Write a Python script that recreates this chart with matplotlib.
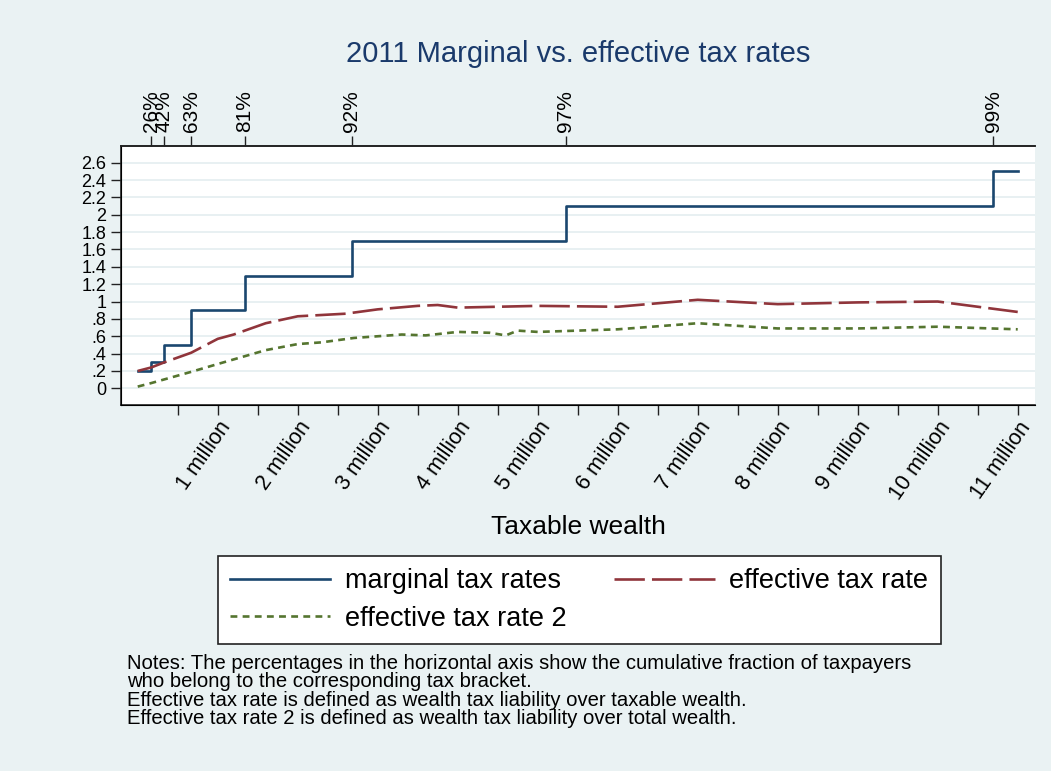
import matplotlib
matplotlib.use("Agg")
import matplotlib.pyplot as plt
import numpy as np

# wealth tax brackets 2011 (million euros) and marginal rates (%)
bracket_start = [0, 0.167129, 0.334253, 0.668500, 1.337000, 2.673999, 5.347998, 10.695996]
marginal_rate = [0.2, 0.3, 0.5, 0.9, 1.3, 1.7, 2.1, 2.5]
bracket_pct = ["26%", "42%", "63%", "81%", "92%", "97%", "99%"]
max_wealth = 11.0

# effective tax rate (liability / taxable wealth)
eff_wealth = [0, 0.167, 0.334, 0.668, 1.0, 1.2, 1.6, 2.0, 2.6, 3.0, 3.5, 3.75, 4.0,
              4.5, 5.0, 6.0, 7.0, 8.0, 9.0, 10.0, 11.0]
eff_rate = [0.20, 0.24, 0.30, 0.41, 0.57, 0.62, 0.75, 0.83, 0.86, 0.91, 0.95, 0.96, 0.93,
            0.94, 0.95, 0.94, 1.02, 0.97, 0.99, 1.00, 0.88]

# effective tax rate 2 (liability / total wealth)
eff2_wealth = [0, 0.167, 0.668, 1.0, 1.3, 1.6, 2.0, 2.3, 2.7, 3.0, 3.3, 3.6, 4.0,
               4.4, 4.6, 4.75, 5.0, 6.0, 7.0, 8.0, 9.0, 10.0, 11.0]
eff2_rate = [0.02, 0.06, 0.19, 0.28, 0.36, 0.44, 0.51, 0.53, 0.58, 0.60, 0.62, 0.61, 0.65,
             0.64, 0.61, 0.665, 0.65, 0.68, 0.75, 0.69, 0.69, 0.71, 0.68]

bg = "#eaf2f3"
navy = "#1a476f"
maroon = "#90353b"
green = "#55752f"

plt.rcParams["font.family"] = ["Liberation Sans", "DejaVu Sans"]

W, H = 1051, 771
fig = plt.figure(figsize=(W / 100, H / 100), dpi=100, facecolor=bg)
ax = fig.add_axes([121 / W, 1 - 405 / H, (1035 - 121) / W, (405 - 146) / H])
ax.set_facecolor("white")

yticks = np.round(np.arange(0, 2.61, 0.2), 1)
for y in yticks:
    ax.axhline(y, color="#e6eff1", lw=1.3, zorder=0)

step_x = bracket_start + [max_wealth]
step_y = marginal_rate + [marginal_rate[-1]]
l1, = ax.step(step_x, step_y, where="post", color=navy, lw=1.9, label="marginal tax rates")
l2, = ax.plot(eff_wealth, eff_rate, color=maroon, lw=1.9, dashes=(11.5, 2.7),
              label="effective tax rate")
l3, = ax.plot(eff2_wealth, eff2_rate, color=green, lw=1.9, dashes=(2.6, 2.0),
              label="effective tax rate 2")

ax.set_xlim(-0.209, 11.216)
ax.set_ylim(-0.192, 2.792)

ax.set_yticks(yticks)
ax.set_yticklabels([("%g" % v).lstrip("0") if v != 0 else "0" for v in yticks], fontsize=13)

xt = np.arange(0.5, 11.01, 0.5)
ax.set_xticks(xt)
ax.set_xticklabels([f"{int(v)} million" if float(v).is_integer() else "" for v in xt],
                   fontsize=15.5, rotation=55, ha="right", rotation_mode="anchor")
ax.tick_params(axis="both", length=7, width=1, color="#222222")
ax.tick_params(axis="x", pad=2)
ax.set_xlabel("Taxable wealth", fontsize=19, labelpad=8)

for side in ["left", "bottom", "top"]:
    ax.spines[side].set_color("#222222")
    ax.spines[side].set_linewidth(1.2)
ax.spines["right"].set_visible(False)

top = ax.twiny()
top.set_xlim(ax.get_xlim())
top.set_xticks(bracket_start[1:])
top.set_xticklabels(bracket_pct, rotation=90, fontsize=15)
top.tick_params(axis="x", length=7, width=1, color="#222222", pad=3)
top.spines["right"].set_visible(False)
top.spines["top"].set_color("#222222")
top.spines["top"].set_linewidth(1.2)

fig.text(578 / W, 1 - 54 / H, "2011 Marginal vs. effective tax rates", fontsize=21,
         color="#1a3a6b", ha="center", va="center")

# column-wise fill: marginal / eff2 in first column, eff in second
leg = fig.legend([l1, l3, l2], [l1.get_label(), l3.get_label(), l2.get_label()],
                 loc="upper left", bbox_to_anchor=(218 / W, 1 - 556 / H), ncol=2,
                 fontsize=19.5, frameon=True, fancybox=False, edgecolor="#222222",
                 framealpha=1, handlelength=3.7, handletextpad=0.55, columnspacing=1.75,
                 borderpad=0.45, labelspacing=0.42, borderaxespad=0)
leg.get_frame().set_linewidth(1.2)
leg.get_frame().set_facecolor("white")

notes = ("Notes: The percentages in the horizontal axis show the cumulative fraction of taxpayers\n"
         "who belong to the corresponding tax bracket.\n"
         "Effective tax rate is defined as wealth tax liability over taxable wealth.\n"
         "Effective tax rate 2 is defined as wealth tax liability over total wealth.")
fig.text(127 / W, 1 - 654 / H, notes, fontsize=14.6, va="top", ha="left", linespacing=0.95)

fig.savefig("out.png", dpi=100, facecolor=bg)
